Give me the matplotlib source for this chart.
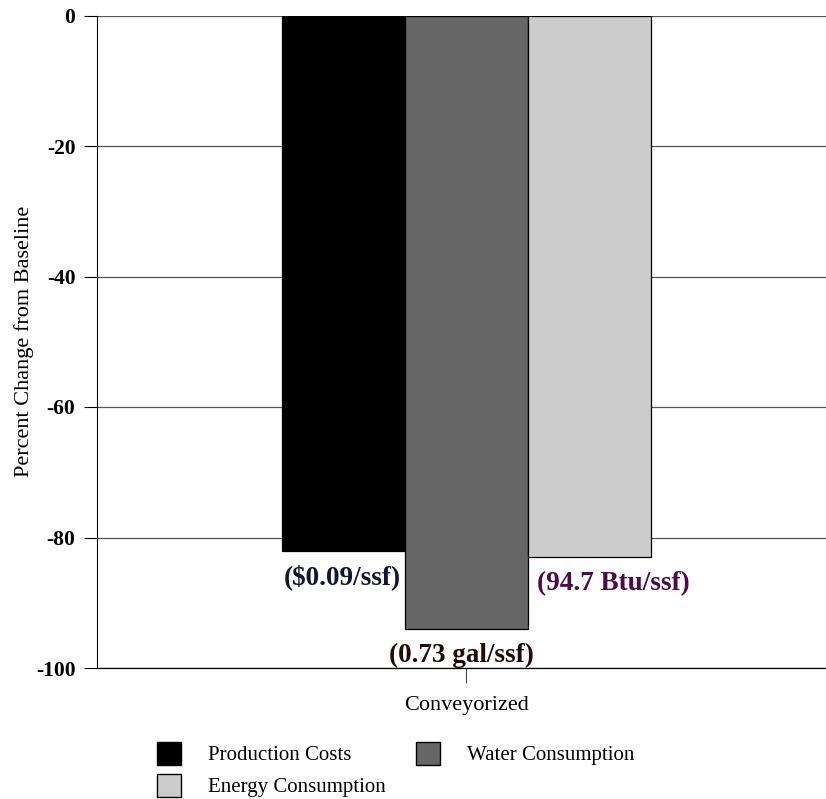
import matplotlib
matplotlib.use("Agg")
import matplotlib.pyplot as plt
from matplotlib.patches import Patch

plt.rcParams['font.family'] = ['Liberation Serif', 'DejaVu Serif']

# Data
category = "Conveyorized"
series = ["Production Costs", "Water Consumption", "Energy Consumption"]
values = [-82, -94, -83]
colors = ["#000000", "#666666", "#cccccc"]
value_labels = ["($0.09/ssf)", "(0.73 gal/ssf)", "(94.7 Btu/ssf)"]
label_colors = ["#141433", "#230a0a", "#4d0a4d"]
label_dx = [-0.01, -0.04, 0.2]   # horizontal shift of each label from its bar centre
yticks = [0, -20, -40, -60, -80, -100]

fig = plt.figure(figsize=(8.26, 7.99), dpi=100)
ax = fig.add_axes([97/826, 1-668/799, 1-97/826, (668-15.5)/799])

offsets = [-1, 0, 1]
for off, v, c in zip(offsets, values, colors):
    ax.bar(off, v, width=1.0, color=c, edgecolor="black", linewidth=0.9, zorder=3)

for off, v, txt, tc, dx in zip(offsets, values, value_labels, label_colors, label_dx):
    ax.annotate(txt, xy=(off + dx, v), xytext=(0, -19), textcoords="offset points",
                ha="center", va="center", fontsize=19.5, fontweight="bold",
                color=tc, zorder=4)

ax.set_xlim(-3.003, 2.927)
ax.set_ylim(-100, 0)
ax.set_yticks(yticks)
ax.set_yticklabels([str(t) for t in yticks], fontsize=15.5, fontweight="bold")
ax.set_xticks([0])
ax.set_xticklabels([category], fontsize=16)
ax.tick_params(axis="y", length=9.5, width=0.8, pad=6)
ax.tick_params(axis="x", length=11, width=0.8, pad=9, color="#444444")

ax.grid(axis="y", color="#555555", linewidth=0.9, zorder=1)
for s in ["top", "right"]:
    ax.spines[s].set_visible(False)
ax.spines["left"].set_linewidth(0.8)
ax.spines["bottom"].set_linewidth(0.9)

ax.set_ylabel("Percent Change from Baseline", fontsize=16)
ax.yaxis.set_label_coords((34 - 97) / 729, 0.5)

handles = [Patch(facecolor=colors[0], edgecolor="black", label=series[0]),
           Patch(facecolor=colors[2], edgecolor="black", label=series[2]),
           Patch(facecolor=colors[1], edgecolor="black", label=series[1])]
fig.legend(handles=handles, ncol=2, loc="upper left",
           bbox_to_anchor=(157/826, 1-742/799), frameon=False, fontsize=15,
           handlelength=1.15, handleheight=1.3, handletextpad=1.3,
           columnspacing=1.46, labelspacing=0.42, borderaxespad=0, borderpad=0)

fig.savefig("out.png", dpi=100)
